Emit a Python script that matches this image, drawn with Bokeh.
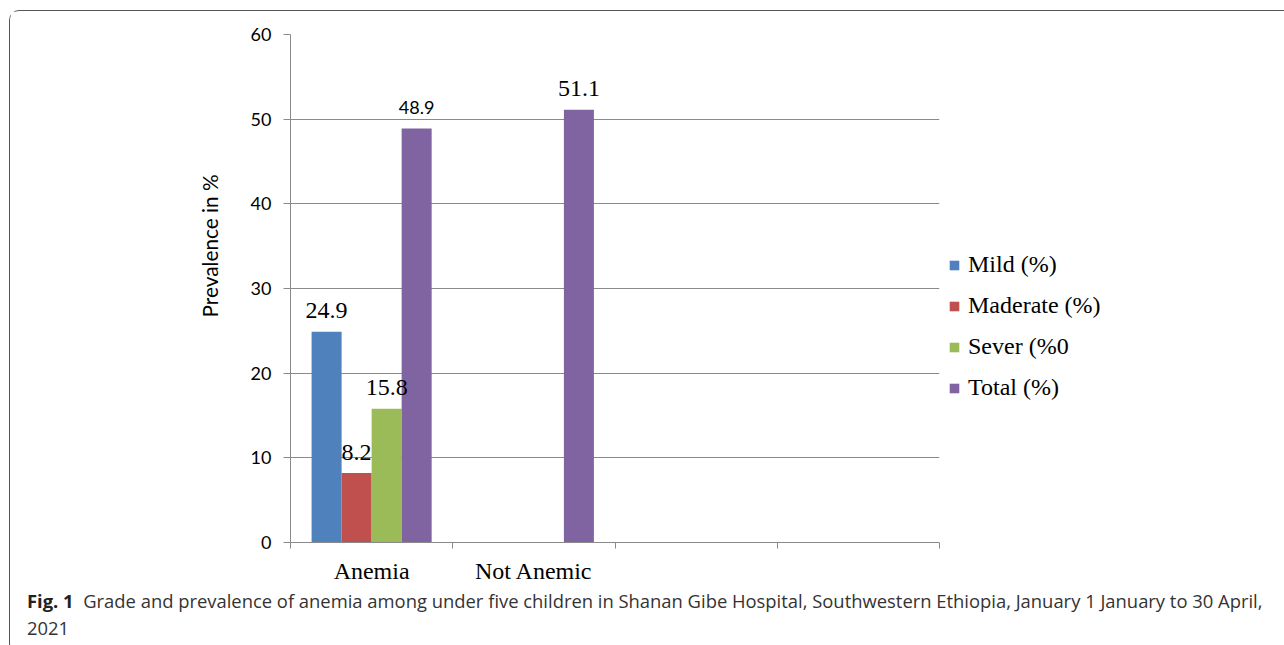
from bokeh.plotting import figure
from bokeh.models import (Range1d, FixedTicker, Legend, LegendItem,
                          ColumnDataSource, Div, Title)
from bokeh.layouts import column
from bokeh.core.properties import value
from bokeh.embed import file_html
from bokeh.resources import INLINE

categories = ["Anemia", "Not Anemic", "", ""]
series = ["Mild (%)", "Maderate (%)", "Sever (%0", "Total (%)"]
mild = [24.9, 0, 0, 0]
moderate = [8.2, 0, 0, 0]
severe = [15.8, 0, 0, 0]
total = [48.9, 51.1, 0, 0]
y_ticks = [0, 10, 20, 30, 40, 50, 60]
y_title = "Prevalence in %"
caption_bold = "Fig. 1"
caption_1 = "Grade and prevalence of anemia among under five children in Shanan Gibe Hospital, Southwestern Ethiopia, January 1 January to 30 April,"
caption_2 = "2021"

colors = ["#4F81BD", "#C0504D", "#9BBB59", "#8064A2"]
offsets = [-0.2775, -0.0925, 0.0925, 0.2775]
values_all = [mild, moderate, severe, total]
GRAY = "#8a8a8a"
SERIF = "Liberation Serif"
SANS = "Lato"

# origin of the figure on the page: (10, 11)
p = figure(frame_width=649, frame_height=508, output_backend="svg", toolbar_location=None,
           x_range=Range1d(0, len(categories)), y_range=Range1d(0, 60),
           min_border_left=280, min_border_right=0, min_border_top=23,
           min_border_bottom=44)
p.outline_line_color = None
p.background_fill_color = "white"
p.border_fill_color = "white"

items = []
for name, vals, col, off in zip(series, values_all, colors, offsets):
    xs = [i + 0.5 + off for i, v in enumerate(vals) if v > 0]
    ys = [v for v in vals if v > 0]
    src = ColumnDataSource(dict(x=xs, top=ys))
    r = p.vbar(x="x", top="top", width=0.185, bottom=0, source=src,
               fill_color=col, line_color=None)
    items.append(LegendItem(label=name, renderers=[r]))

# value labels
lab_x, lab_y, lab_t, lab_sans = [], [], [], []
for si, (vals, off) in enumerate(zip(values_all, offsets)):
    for i, v in enumerate(vals):
        if v > 0:
            lab_x.append(i + 0.5 + off)
            lab_y.append(v)
            lab_t.append(f"{v:.1f}")
            lab_sans.append(si == 3 and i == 0)

serif_src = ColumnDataSource(dict(
    x=[x for x, s in zip(lab_x, lab_sans) if not s],
    y=[y for y, s in zip(lab_y, lab_sans) if not s],
    t=[t for t, s in zip(lab_t, lab_sans) if not s]))
sans_src = ColumnDataSource(dict(
    x=[x for x, s in zip(lab_x, lab_sans) if s],
    y=[y for y, s in zip(lab_y, lab_sans) if s],
    t=[t for t, s in zip(lab_t, lab_sans) if s]))
p.text(x="x", y="y", text="t", source=serif_src, text_font=value(SERIF),
       text_font_size="24px", text_align="center", text_baseline="alphabetic",
       y_offset=-21, text_color="black")
p.text(x="x", y="y", text="t", source=sans_src, text_font=value(SANS),
       text_font_size="18px", text_align="center", text_baseline="alphabetic",
       y_offset=-21, text_color="black")

# axes
p.xaxis.ticker = FixedTicker(ticks=[i + 0.5 for i in range(len(categories))],
                             minor_ticks=list(range(len(categories) + 1)))
p.xaxis.major_label_overrides = {i + 0.5: c for i, c in enumerate(categories)}
p.xaxis.major_tick_line_color = None
p.xaxis.major_tick_out = 0
p.xaxis.major_tick_in = 0
p.xaxis.minor_tick_line_color = GRAY
p.xaxis.minor_tick_out = 6
p.xaxis.minor_tick_in = 0
p.xaxis.axis_line_color = GRAY
p.xaxis.major_label_text_font = SERIF
p.xaxis.major_label_text_font_size = "24px"
p.xaxis.major_label_text_color = "black"
p.xaxis.major_label_standoff = 9

p.yaxis.ticker = FixedTicker(ticks=y_ticks)
p.yaxis.minor_tick_line_color = None
p.yaxis.major_tick_line_color = GRAY
p.yaxis.major_tick_out = 7
p.yaxis.major_tick_in = 0
p.yaxis.axis_line_color = GRAY
p.yaxis.major_label_text_font = SANS
p.yaxis.major_label_text_font_size = "18px"
p.yaxis.major_label_text_color = "black"
p.yaxis.major_label_standoff = 12

p.add_layout(Title(text=y_title, align="left", offset=225, standoff=51,
                   vertical_align="bottom", text_font=SANS,
                   text_font_size="20.8px", text_font_style="normal",
                   text_color="black"), "left")

p.xgrid.grid_line_color = None
p.ygrid.grid_line_color = GRAY
p.ygrid.ticker = FixedTicker(ticks=y_ticks)

legend = Legend(items=items, location=(9, 141), orientation="vertical",
                border_line_color=None, background_fill_alpha=0,
                padding=0, margin=0, spacing=14, glyph_width=12, glyph_height=12,
                label_height=26, label_standoff=8, label_text_font=SERIF,
                label_text_font_size="24px", label_text_color="black")
p.add_layout(legend, "right")

caption = Div(
    text=(f'<div style="font-family:\'Open Sans\';font-size:18.4px;line-height:27px;'
          f'color:#333;white-space:nowrap;padding-left:12px;margin-top:-4px">'
          f'<b style="color:#222">{caption_bold}</b>&nbsp;&nbsp;{caption_1}<br>{caption_2}</div>'),
    width=1270, height=56)

layout = column(p, caption, spacing=0,
                styles={"border": "1px solid #555555", "border-right": "none",
                        "border-radius": "10px 0 0 10px",
                        "margin-left": "9px", "margin-top": "10px"})

open("out.html", "w").write(file_html(layout, INLINE))
